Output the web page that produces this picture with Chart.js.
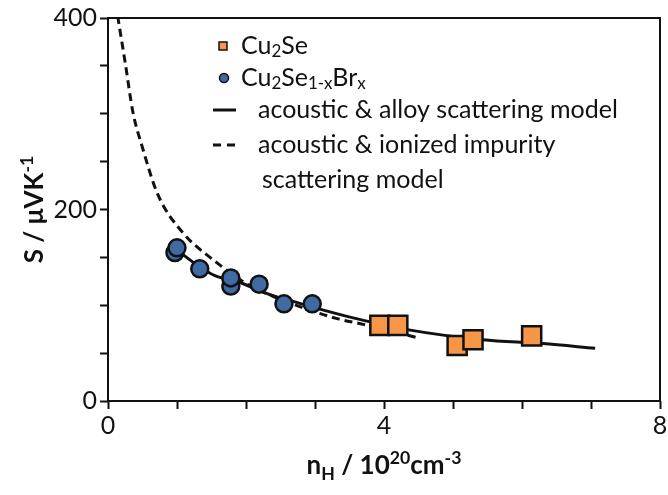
<!DOCTYPE html>
<html>
<head>
<meta charset="utf-8">
<script src="https://cdn.jsdelivr.net/npm/chart.js@4/dist/chart.umd.min.js"></script>
<style>
  html, body { margin: 0; padding: 0; background: #fff; overflow: hidden; }
  #wrap { width: 676px; height: 495px; }
</style>
</head>
<body>
<div id="wrap"><canvas id="myChart"></canvas></div>
<script>
// measured samples
const cu2seX = [3.94, 4.2, 5.06, 5.29, 6.14];
const cu2seS = [79, 79, 58, 64, 68];
const brX = [0.97, 1.0, 1.33, 1.78, 1.78, 2.19, 2.55, 2.96];
const brS = [155, 160, 138, 120, 128.5, 122, 101.5, 101.5];

// model curves
const alloyX = [1.0, 1.12, 1.33, 1.55, 1.9, 2.35, 2.78, 3.07, 3.6, 4.38, 5.43, 6.3, 7.06];
const alloyS = [158, 151, 140, 131, 124, 111, 102, 96, 86, 74, 64, 60, 55];
const impurityX = [0.14, 0.25, 0.36, 0.49, 0.72, 1.07, 1.55, 2.06, 2.3, 2.8, 3.32, 3.7, 4.1, 4.49];
const impurityS = [402, 353, 302, 267, 216, 177, 146, 120, 112, 98, 86, 80, 73, 66];

const xTicks = [0, 4, 8];
const yTicks = [0, 200, 400];

const ORANGE = '#f79646';
const BLUE = '#3f6aa3';
const INK = '#111';
const FONT = 'Lato, "Open Sans", sans-serif';

function toPoints(xs, ys) {
  return xs.map((x, i) => ({ x: x, y: ys[i] }));
}

// text with sub/superscripts, parts = [[text, 'sub'|'sup'|''], ...]
function richWidth(ctx, parts, size, weight) {
  let w = 0;
  for (const [t, s] of parts) {
    ctx.font = weight + ' ' + (s ? size * 0.68 : size) + 'px ' + FONT;
    w += ctx.measureText(t).width;
  }
  return w;
}
function richText(ctx, x, y, parts, size, weight) {
  let cx = x;
  for (const [t, s] of parts) {
    ctx.font = weight + ' ' + (s ? size * 0.68 : size) + 'px ' + FONT;
    let dy = 0;
    if (s === 'sub') dy = size * 0.22;
    if (s === 'sup') dy = -size * 0.38;
    ctx.fillText(t, cx, y + dy);
    cx += ctx.measureText(t).width;
  }
}

const legendRows = [
  { mark: 'square', x: 241, y: 46, parts: [['Cu', ''], ['2', 'sub'], ['Se', '']] },
  { mark: 'circle', x: 241, y: 78, parts: [['Cu', ''], ['2', 'sub'], ['Se', ''], ['1-x', 'sub'], ['Br', ''], ['x', 'sub']] },
  { mark: 'solid', x: 258, y: 110, parts: [['acoustic & alloy scattering model', '']] },
  { mark: 'dash', x: 258, y: 145, parts: [['acoustic & ionized impurity', '']] },
  { mark: null, x: 262, y: 180, parts: [['scattering model', '']] }
];

const decorations = {
  id: 'decorations',
  beforeDatasetsDraw(chart) {
    const { ctx, chartArea: a } = chart;
    ctx.save();
    ctx.strokeStyle = INK;
    ctx.lineWidth = 2;
    ctx.strokeRect(a.left, a.top, a.right - a.left, a.bottom - a.top);
    ctx.restore();
  },
  afterDraw(chart) {
    const { ctx, chartArea: a } = chart;
    ctx.save();
    ctx.fillStyle = INK;
    ctx.textBaseline = 'middle';

    // legend
    for (const row of legendRows) {
      ctx.strokeStyle = INK;
      if (row.mark === 'square') {
        ctx.fillStyle = ORANGE;
        ctx.lineWidth = 1.5;
        ctx.fillRect(219, row.y - 4, 8, 8);
        ctx.strokeRect(219, row.y - 4, 8, 8);
      } else if (row.mark === 'circle') {
        ctx.fillStyle = BLUE;
        ctx.lineWidth = 1.5;
        ctx.beginPath();
        ctx.arc(224, row.y, 4.5, 0, Math.PI * 2);
        ctx.fill();
        ctx.stroke();
      } else if (row.mark === 'solid') {
        ctx.lineWidth = 3;
        ctx.beginPath();
        ctx.moveTo(213, row.y);
        ctx.lineTo(236, row.y);
        ctx.stroke();
      } else if (row.mark === 'dash') {
        ctx.lineWidth = 3;
        ctx.setLineDash([8, 6]);
        ctx.beginPath();
        ctx.moveTo(213, row.y);
        ctx.lineTo(236, row.y);
        ctx.stroke();
        ctx.setLineDash([]);
      }
      ctx.fillStyle = INK;
      richText(ctx, row.x, row.y, row.parts, 25, 'normal');
    }

    // axis titles
    const xTitle = [['n', ''], ['H', 'sub'], [' / 10', ''], ['20', 'sup'], ['cm', ''], ['-3', 'sup']];
    const xw = richWidth(ctx, xTitle, 26, 'bold');
    ctx.textBaseline = 'alphabetic';
    richText(ctx, (a.left + a.right) / 2 - xw / 2, 474, xTitle, 26, 'bold');

    const yTitle = [['S / \u03bcVK', ''], ['-1', 'sup']];
    const yw = richWidth(ctx, yTitle, 26, 'bold');
    ctx.translate(43, (a.top + a.bottom) / 2);
    ctx.rotate(-Math.PI / 2);
    richText(ctx, -yw / 2, 0, yTitle, 26, 'bold');
    ctx.restore();
  }
};

let myChart;

function initChart() {
  const ctx = document.getElementById('myChart');

  myChart = new Chart(ctx, {
    type: 'scatter',
    data: {
      datasets: [
        {
          label: 'Cu2Se',
          data: toPoints(cu2seX, cu2seS),
          pointStyle: 'rect',
          pointRadius: 13.5,
          backgroundColor: ORANGE,
          borderColor: INK,
          borderWidth: 2.5,
          order: 0
        },
        {
          label: 'Cu2Se1-xBrx',
          data: toPoints(brX, brS),
          pointStyle: 'circle',
          pointRadius: 8.5,
          backgroundColor: BLUE,
          borderColor: INK,
          borderWidth: 2.5,
          order: 1
        },
        {
          label: 'acoustic & alloy scattering model',
          data: toPoints(alloyX, alloyS),
          showLine: true,
          cubicInterpolationMode: 'monotone',
          pointRadius: 0,
          borderColor: INK,
          borderWidth: 3,
          order: 2
        },
        {
          label: 'acoustic & ionized impurity scattering model',
          data: toPoints(impurityX, impurityS),
          showLine: true,
          cubicInterpolationMode: 'monotone',
          pointRadius: 0,
          borderColor: INK,
          borderWidth: 3,
          borderDash: [8, 5],
          order: 3
        }
      ]
    },
    options: {
      responsive: true,
      maintainAspectRatio: false,
      animation: false,
      layout: { padding: { top: 15, right: 16, left: 0, bottom: 0 } },
      plugins: {
        legend: { display: false },
        tooltip: { enabled: false }
      },
      scales: {
        x: {
          type: 'linear',
          min: 0,
          max: 8,
          afterFit: (scale) => { scale.height = 94; },
          border: { display: false },
          grid: { drawOnChartArea: false, drawTicks: true, tickLength: 8, tickWidth: 2, tickColor: INK },
          ticks: {
            stepSize: 1,
            autoSkip: false,
            maxRotation: 0,
            padding: 2,
            color: INK,
            font: { family: FONT, size: 25 },
            callback: (v) => xTicks.includes(v) ? v : ''
          }
        },
        y: {
          type: 'linear',
          min: 0,
          max: 400,
          afterFit: (scale) => { scale.width = 108; },
          border: { display: false },
          grid: { drawOnChartArea: false, drawTicks: true, tickLength: 8, tickWidth: 2, tickColor: INK },
          ticks: {
            stepSize: 50,
            autoSkip: false,
            padding: 3,
            color: INK,
            font: { family: FONT, size: 25 },
            callback: (v) => yTicks.includes(v) ? v : ''
          }
        }
      }
    },
    plugins: [decorations]
  });
}

document.addEventListener('DOMContentLoaded', () => initChart());
</script>
</body>
</html>
